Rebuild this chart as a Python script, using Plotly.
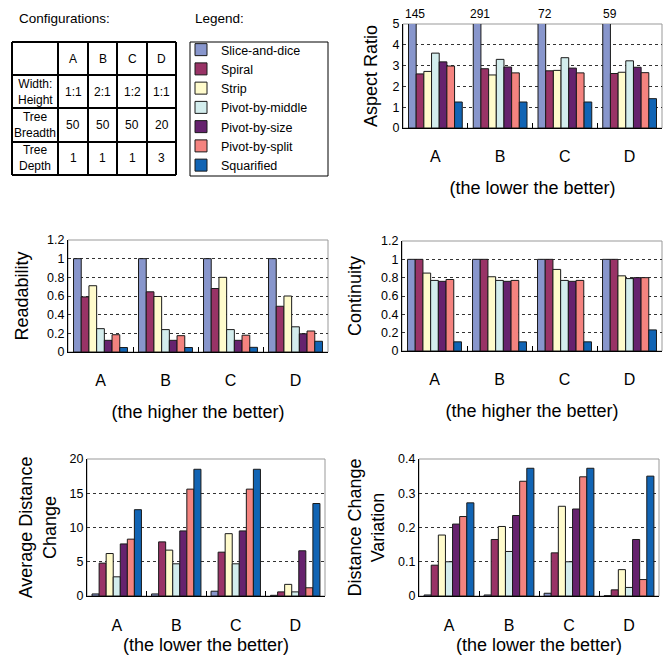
import plotly.graph_objects as go

W, H = 667, 655

categories = ["A", "B", "C", "D"]
methods = ["Slice-and-dice", "Spiral", "Strip", "Pivot-by-middle",
           "Pivot-by-size", "Pivot-by-split", "Squarified"]
colors = ["#8896CC", "#993366", "#FFFBCC", "#D3EDED", "#66226E", "#F4837F", "#1164B4"]

# values per method (rows) for configurations A..D (columns)
aspect_ratio = [
    [145, 291, 72, 59],
    [2.60, 2.85, 2.75, 2.62],
    [2.72, 2.55, 2.77, 2.68],
    [3.60, 3.30, 3.38, 3.23],
    [3.18, 2.93, 2.88, 2.92],
    [2.98, 2.65, 2.65, 2.66],
    [1.25, 1.25, 1.25, 1.41],
]
aspect_labels = ["145", "291", "72", "59"]

readability = [
    [1.0, 1.0, 1.0, 1.0],
    [0.59, 0.645, 0.68, 0.49],
    [0.71, 0.595, 0.80, 0.60],
    [0.25, 0.24, 0.24, 0.27],
    [0.125, 0.125, 0.125, 0.195],
    [0.185, 0.175, 0.18, 0.225],
    [0.048, 0.048, 0.05, 0.115],
]

continuity = [
    [1.0, 1.0, 1.0, 1.0],
    [1.0, 1.0, 1.0, 1.0],
    [0.85, 0.81, 0.89, 0.82],
    [0.77, 0.77, 0.77, 0.79],
    [0.76, 0.76, 0.76, 0.80],
    [0.78, 0.77, 0.77, 0.80],
    [0.10, 0.10, 0.10, 0.23],
]

avg_distance_change = [
    [0.3, 0.3, 0.7, 0.1],
    [4.8, 7.9, 6.4, 0.6],
    [6.2, 6.7, 9.1, 1.7],
    [2.8, 4.7, 4.7, 0.6],
    [7.6, 9.5, 9.5, 6.6],
    [8.3, 15.6, 15.6, 1.2],
    [12.6, 18.5, 18.5, 13.5],
]

distance_change_variation = [
    [0.003, 0.003, 0.008, 0.001],
    [0.090, 0.165, 0.126, 0.018],
    [0.178, 0.203, 0.262, 0.077],
    [0.100, 0.130, 0.100, 0.025],
    [0.210, 0.235, 0.254, 0.165],
    [0.232, 0.335, 0.348, 0.048],
    [0.272, 0.373, 0.373, 0.350],
]

# configuration table
table_header = ["", "A", "B", "C", "D"]
table_rows = ["Width:<br>Height", "Tree<br>Breadth", "Tree<br>Depth"]
table_A = ["1:1", "50", "1"]
table_B = ["2:1", "50", "1"]
table_C = ["1:2", "50", "1"]
table_D = ["1:1", "20", "3"]

FONT = "Liberation Sans, Arial, sans-serif"
BARGAP = 0.17

fig = go.Figure()


def px_x(v):
    return v / W


def px_y(v):
    return 1 - v / H


panels = [
    (aspect_ratio, "Aspect Ratio", "(the lower the better)", (403, 662), (24, 128), [0, 5], 1),
    (readability, "Readability", "(the higher the better)", (68, 328), (240, 352), [0, 1.2], 0.2),
    (continuity, "Continuity", "(the higher the better)", (402, 662), (241, 351), [0, 1.2], 0.2),
    (avg_distance_change, "Average Distance<br>Change", "(the lower the better)", (87, 325), (459, 596), [0, 20], 5),
    (distance_change_variation, "Distance Change<br>Variation", "(the lower the better)", (419, 659), (459, 596), [0, 0.4], 0.1),
]
y_standoffs = [10, 13, 14, 8, 8]

shapes = []
for p, (data, ytitle, xtitle, xpx, ypx, yr, dt) in enumerate(panels):
    idx = "" if p == 0 else str(p + 1)
    xa, ya = "x" + idx, "y" + idx
    for m, name in enumerate(methods):
        fig.add_trace(go.Bar(
            x=categories, y=data[m], name=name, xaxis=xa, yaxis=ya,
            marker=dict(color=colors[m], line=dict(color="#1a1a1a", width=1)),
            showlegend=(p == 0), legendgroup=name,
        ))
    fig.layout["xaxis" + idx] = dict(
        domain=[px_x(xpx[0]), px_x(xpx[1])], anchor=ya, type="category",
        showline=True, linecolor="black", linewidth=1,
        ticks="inside", tickson="boundaries", ticklen=5, tickcolor="black",
        tickfont=dict(size=16, color="black", family=FONT),
        ticklabelstandoff=14 if p < 3 else 15,
        title=dict(text=xtitle, font=dict(size=18, color="black", family=FONT),
                   standoff=17 if p < 3 else 12),
        showgrid=False, automargin=False, fixedrange=True,
    )
    fig.layout["yaxis" + idx] = dict(
        domain=[px_y(ypx[1]), px_y(ypx[0])], anchor=xa, range=yr, dtick=dt,
        showline=True, linecolor="black", linewidth=1,
        ticks="", showgrid=True, griddash="dot", gridcolor="#333333", gridwidth=1,
        zeroline=False,
        tickfont=dict(size=12.5, color="black", family=FONT),
        title=dict(text=ytitle, font=dict(size=18, color="black", family=FONT),
                   standoff=y_standoffs[p]),
        automargin=False, fixedrange=True,
    )
    shapes.append(dict(type="rect", xref=xa + " domain", yref=ya + " domain",
                       x0=0, x1=1, y0=0, y1=1, line=dict(color="#999999", width=1),
                       layer="below"))

# labels for clipped Slice-and-dice bars in Aspect Ratio
group_w = 1 - BARGAP
bar_w = group_w / len(methods)
first_off = -group_w / 2 + bar_w / 2
annotations = []
for i, lab in enumerate(aspect_labels):
    annotations.append(dict(x=i + first_off, y=5, xref="x", yref="y", text=lab,
                            showarrow=False, yanchor="bottom", xshift=3, yshift=1,
                            font=dict(size=12, color="black", family=FONT)))

annotations.append(dict(x=px_x(17), y=px_y(18), xref="paper", yref="paper",
                        text="Configurations:", showarrow=False, xanchor="left",
                        yanchor="middle", font=dict(size=13.5, color="black", family=FONT)))
annotations.append(dict(x=px_x(193), y=px_y(18), xref="paper", yref="paper",
                        text="Legend:", showarrow=False, xanchor="left",
                        yanchor="middle", font=dict(size=13.5, color="black", family=FONT)))

# configuration table drawn as a grid of lines and text
col_edges = [12, 58, 88, 117, 147, 176]
row_edges = [42, 75, 108, 142, 175]
for xe in col_edges:
    shapes.append(dict(type="line", xref="paper", yref="paper",
                       x0=px_x(xe), x1=px_x(xe), y0=px_y(row_edges[0]), y1=px_y(row_edges[-1]),
                       line=dict(color="black", width=2)))
for ye in row_edges:
    shapes.append(dict(type="line", xref="paper", yref="paper",
                       x0=px_x(col_edges[0]), x1=px_x(col_edges[-1]), y0=px_y(ye), y1=px_y(ye),
                       line=dict(color="black", width=2)))
table_columns = [[table_header[0]] + table_rows,
                 [table_header[1]] + table_A,
                 [table_header[2]] + table_B,
                 [table_header[3]] + table_C,
                 [table_header[4]] + table_D]
for c, col in enumerate(table_columns):
    cx = (col_edges[c] + col_edges[c + 1]) / 2
    for r, txt in enumerate(col):
        if not txt:
            continue
        cy = (row_edges[r] + row_edges[r + 1]) / 2
        annotations.append(dict(x=px_x(cx), y=px_y(cy), xref="paper", yref="paper",
                                text=txt, showarrow=False, xanchor="center", yanchor="middle",
                                align="center",
                                font=dict(size=12, color="black", family=FONT)))

# legend frame
shapes.append(dict(type="rect", xref="paper", yref="paper",
                   x0=px_x(190), x1=px_x(328), y0=px_y(176), y1=px_y(42),
                   line=dict(color="black", width=1)))

fig.update_layout(
    width=W, height=H, margin=dict(l=0, r=0, t=0, b=0),
    paper_bgcolor="white", plot_bgcolor="white",
    barmode="group", bargap=BARGAP, bargroupgap=0,
    font=dict(family=FONT, color="black"),
    showlegend=True,
    legend=dict(x=px_x(181), y=px_y(35), xanchor="left", yanchor="top",
                borderwidth=0, bgcolor="rgba(0,0,0,0)",
                font=dict(size=12.5, color="black", family=FONT),
                traceorder="normal", itemclick=False, itemdoubleclick=False),
    shapes=shapes, annotations=annotations,
)

fig.write_html("out.html", config={"displayModeBar": False},
               post_script="document.body.style.margin='0';")
